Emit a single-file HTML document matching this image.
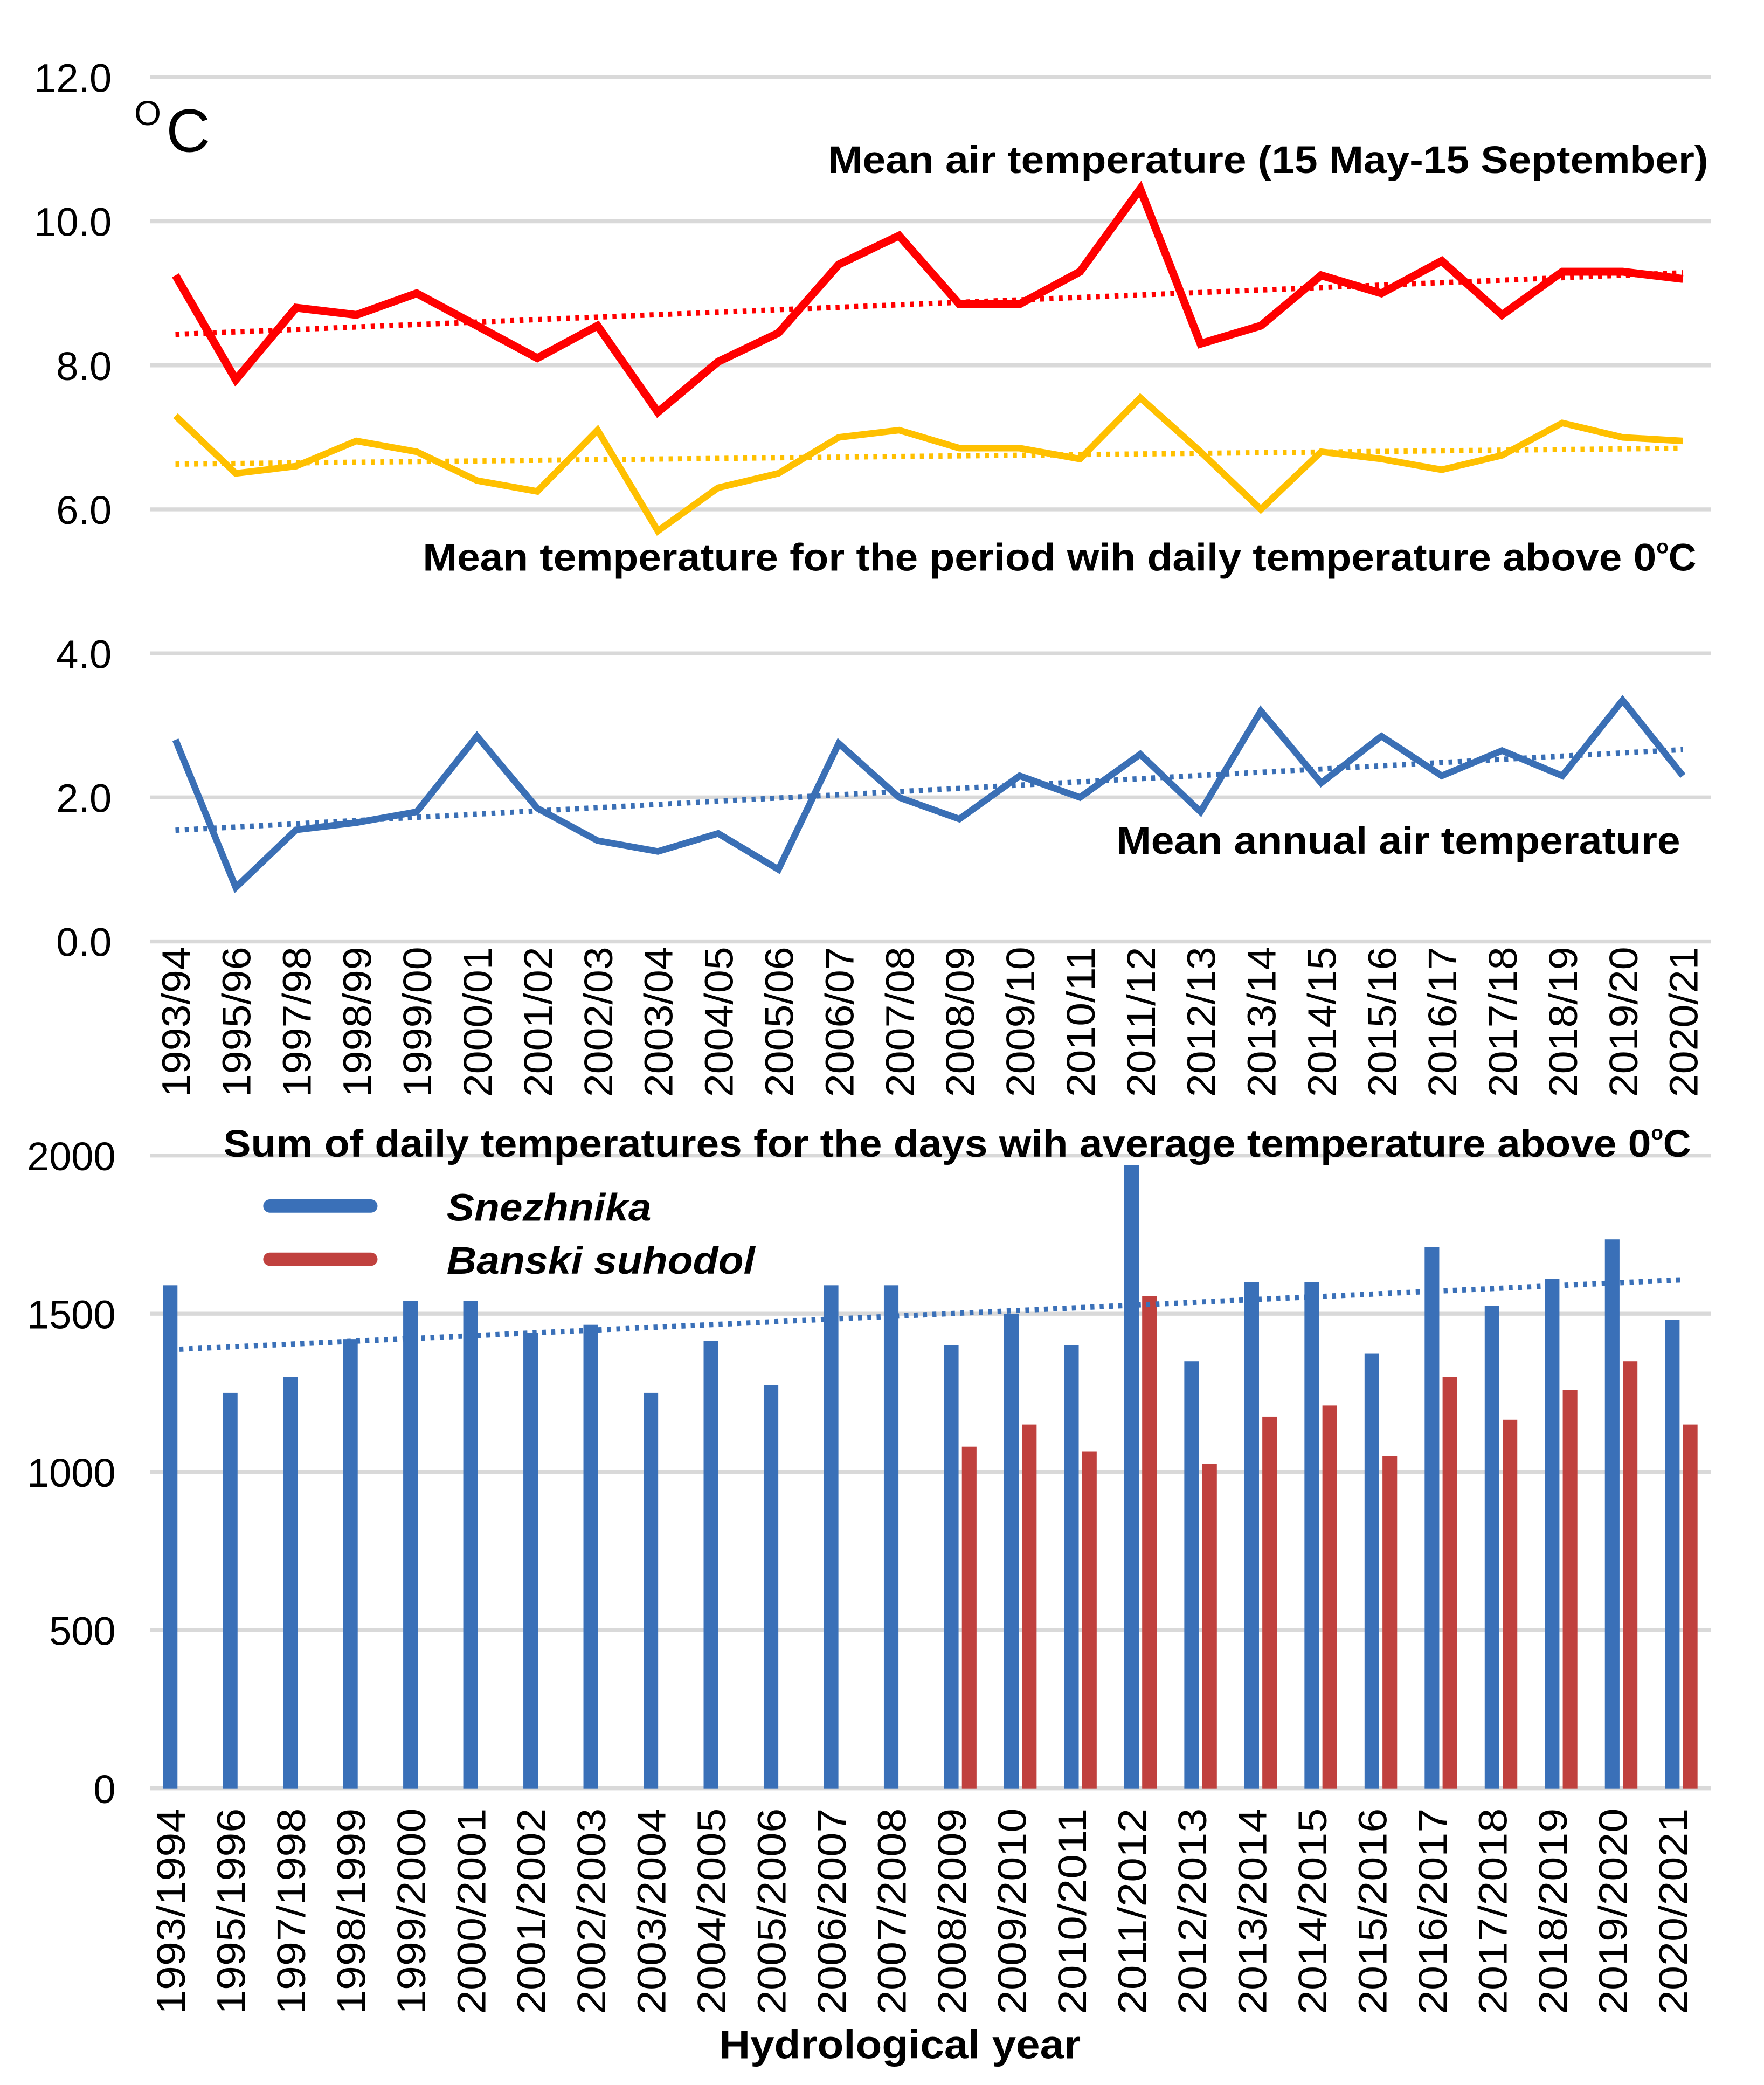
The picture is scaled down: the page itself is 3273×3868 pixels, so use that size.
<!DOCTYPE html>
<html><head><meta charset="utf-8">
<style>
html,body{margin:0;padding:0;background:#fff;}
svg{display:block;}
text{font-family:"Liberation Sans",Arial,sans-serif;}
</style></head>
<body>
<svg id="c" width="3273" height="3868" viewBox="0 0 1327 1568" xmlns="http://www.w3.org/2000/svg">
<rect width="1327" height="1568" fill="#fff"/>
<g id="topChart"></g>
<g id="botChart"></g>
</svg>
<script>
const categoriesShort = ["1993/94","1995/96","1997/98","1998/99","1999/00","2000/01","2001/02","2002/03","2003/04","2004/05","2005/06","2006/07","2007/08","2008/09","2009/10","2010/11","2011/12","2012/13","2013/14","2014/15","2015/16","2016/17","2017/18","2018/19","2019/20","2020/21"];
const categoriesLong = ["1993/1994","1995/1996","1997/1998","1998/1999","1999/2000","2000/2001","2001/2002","2002/2003","2003/2004","2004/2005","2005/2006","2006/2007","2007/2008","2008/2009","2009/2010","2010/2011","2011/2012","2012/2013","2013/2014","2014/2015","2015/2016","2016/2017","2017/2018","2018/2019","2019/2020","2020/2021"];
const summerTemp = [9.25,7.8,8.8,8.7,9.0,8.55,8.1,8.55,7.35,8.05,8.45,9.4,9.8,8.85,8.85,9.3,10.45,8.3,8.55,9.25,9.0,9.45,8.7,9.3,9.3,9.2];
const aboveZeroTemp = [7.3,6.5,6.6,6.95,6.8,6.4,6.25,7.1,5.7,6.3,6.5,7.0,7.1,6.85,6.85,6.7,7.55,6.8,6.0,6.8,6.7,6.55,6.75,7.2,7.0,6.95];
const annualTemp = [2.8,0.75,1.55,1.65,1.8,2.85,1.85,1.4,1.25,1.5,1.0,2.75,2.0,1.7,2.3,2.0,2.6,1.8,3.2,2.2,2.85,2.3,2.65,2.3,3.35,2.3];
const snezhnika = [1590,1250,1300,1420,1540,1540,1440,1465,1250,1415,1275,1590,1590,1400,1500,1400,1970,1350,1600,1600,1375,1710,1525,1610,1735,1480];
const banski = [null,null,null,null,null,null,null,null,null,null,null,null,null,1080,1150,1065,1555,1025,1175,1210,1050,1300,1165,1260,1350,1150];
const topTicks = ["0.0","2.0","4.0","6.0","8.0","10.0","12.0"];
const botTicks = ["0","500","1000","1500","2000"];

const NS="http://www.w3.org/2000/svg";
function mk(parent,tag,attrs,txt){const e=document.createElementNS(NS,tag);for(const k in attrs)e.setAttribute(k,attrs[k]);if(txt!=null)e.textContent=txt;parent.appendChild(e);return e;}
function trend(vals){const pts=vals.map((v,i)=>[i,v]).filter(p=>p[1]!=null);const n=pts.length;let sx=0,sy=0,sxy=0,sxx=0;pts.forEach(([x,y])=>{sx+=x;sy+=y;sxy+=x*y;sxx+=x*x;});const b=(n*sxy-sx*sy)/(n*sxx-sx*sx);const a=(sy-b*sx)/n;return [pts[0][0],a+b*pts[0][0],pts[n-1][0],a+b*pts[n-1][0]];}
const SA='spacingAndGlyphs';

// ---- top chart ----
const topG=document.getElementById('topChart');
const tx=i=>132+i*(1266-132)/25;
const ty=v=>708-v*(708-58)/12;
topTicks.forEach(t=>{const v=parseFloat(t);
 const g=mk(topG,'line',{x1:113,x2:1287,y1:ty(v),y2:ty(v),stroke:'#d9d9d9','stroke-width':3});
 
 
 const l=mk(topG,'text',{x:84,y:ty(v)+11,'font-size':30,'text-anchor':'end',fill:'#000'},t);
 
 
});
const u1=mk(topG,'text',{x:101,y:94,'font-size':26,fill:'#000'},'O');


const u2=mk(topG,'text',{x:125,y:114,'font-size':46,fill:'#000'},'C');


function series(vals,color,name,w){
 const tr=trend(vals);
 const t=mk(topG,'line',{x1:tx(tr[0]),y1:ty(tr[1]),x2:tx(tr[2]),y2:ty(tr[3]),stroke:color,'stroke-width':4,'stroke-dasharray':'3 4'});
 
 
 const p=mk(topG,'polyline',{points:vals.map((v,i)=>tx(i)+','+ty(v)).join(' '),fill:'none',stroke:color,'stroke-width':w,'stroke-linejoin':'miter'});
 
 
}
series(summerTemp,'#ff0000','summer',6);
series(aboveZeroTemp,'#ffc000','above-zero',5);
series(annualTemp,'#3a6fb5','annual',5);
const l1=mk(topG,'text',{x:623,y:130,'font-size':29,'font-weight':'bold',textLength:662,lengthAdjust:SA},'Mean air temperature (15 May-15 September)');


const l2=mk(topG,'text',{x:318,y:429,'font-size':29,'font-weight':'bold'});


mk(l2,'tspan',{textLength:928,lengthAdjust:SA},'Mean temperature for the period wih daily temperature above 0');
mk(l2,'tspan',{'font-size':15,dy:-13},'o');
mk(l2,'tspan',{dy:13},'C');
const l3=mk(topG,'text',{x:840,y:642,'font-size':29,'font-weight':'bold',textLength:424,lengthAdjust:SA},'Mean annual air temperature');


categoriesShort.forEach((c,i)=>{
 const t=mk(topG,'text',{transform:`translate(${tx(i)+11},825) rotate(-90)`,'font-size':30,textLength:113,lengthAdjust:SA},c);
 
 
});

// ---- bottom chart ----
const botG=document.getElementById('botChart');
const bx=i=>128+i*(1258-128)/25;
const by=v=>1345-v*(1345-869)/2000;
botTicks.forEach(t=>{const v=parseFloat(t);
 const g=mk(botG,'line',{x1:113,x2:1287,y1:by(v),y2:by(v),stroke:'#d9d9d9','stroke-width':3});
 
 
 const l=mk(botG,'text',{x:87,y:by(v)+11,'font-size':30,'text-anchor':'end'},t);
 
 
});
snezhnika.forEach((v,i)=>{
 const r=mk(botG,'rect',{x:bx(i)-5.5,y:by(v),width:11,height:by(0)-by(v),fill:'#3a70b8'});
 
 
});
banski.forEach((v,i)=>{ if(v==null)return;
 const r=mk(botG,'rect',{x:bx(i)+8,y:by(v),width:11,height:by(0)-by(v),fill:'#c0413e'});
 
 
});
const btr=trend(snezhnika);
const bt=mk(botG,'line',{x1:bx(btr[0]),y1:by(btr[1]),x2:bx(btr[2])+8,y2:by(btr[3]),stroke:'#3a70b8','stroke-width':4,'stroke-dasharray':'3 4'});


const bTitle=mk(botG,'text',{x:168,y:870,'font-size':29,'font-weight':'bold'});


mk(bTitle,'tspan',{textLength:1074,lengthAdjust:SA},'Sum of daily temperatures for the days wih average temperature above 0');
mk(bTitle,'tspan',{'font-size':15,dy:-13},'o');
mk(bTitle,'tspan',{dy:13},'C');
const lg1=mk(botG,'line',{x1:203,x2:279,y1:907,y2:907,stroke:'#3a70b8','stroke-width':10,'stroke-linecap':'round'});


const lt1=mk(botG,'text',{x:336,y:918,'font-size':29,'font-weight':'bold','font-style':'italic',textLength:154,lengthAdjust:SA},'Snezhnika');


const lg2=mk(botG,'line',{x1:203,x2:279,y1:947,y2:947,stroke:'#c0413e','stroke-width':10,'stroke-linecap':'round'});


const lt2=mk(botG,'text',{x:336,y:958,'font-size':29,'font-weight':'bold','font-style':'italic',textLength:232,lengthAdjust:SA},'Banski suhodol');


categoriesLong.forEach((c,i)=>{
 const t=mk(botG,'text',{transform:`translate(${bx(i)+11},1515) rotate(-90)`,'font-size':30,textLength:155,lengthAdjust:SA},c);
 
 
});
const xt=mk(botG,'text',{x:541,y:1548,'font-size':30,'font-weight':'bold',textLength:272,lengthAdjust:SA},'Hydrological year');


</script>
</body></html>
